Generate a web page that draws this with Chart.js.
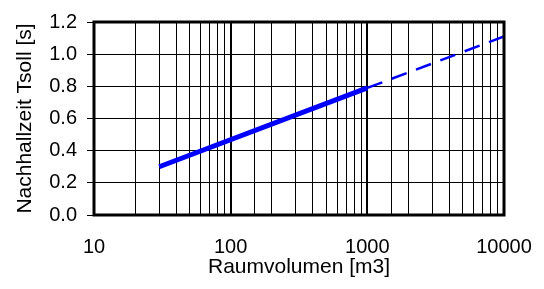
<!DOCTYPE html>
<html>
<head>
<meta charset="utf-8">
<script src="https://cdn.jsdelivr.net/npm/chart.js@4/dist/chart.umd.min.js"></script>
<style>
html,body{margin:0;padding:0;background:#fff;}
#wrap{width:544px;height:289px;position:relative;}
</style>
</head>
<body>
<div id="wrap"><canvas id="c" width="544" height="289"></canvas></div>
<script>
// Data
const solidVolumes = [30, 1000];
const solidTimes = [0.30, 0.79];
const dashedVolumes = [1000, 10000];
const dashedTimes = [0.79, 1.11];
const xTickLabels = [10, 100, 1000, 10000];
const yTickValues = [0, 0.2, 0.4, 0.6, 0.8, 1.0, 1.2];
const xTitle = 'Raumvolumen [m3]';
const yTitle = 'Nachhallzeit Tsoll [s]';

const toPts = (xs, ys) => xs.map((x, i) => ({x: x, y: ys[i]}));
const FONT = '"Liberation Sans", Arial, sans-serif';
const isDecade = v => Math.abs(Math.log10(v) - Math.round(Math.log10(v))) < 1e-9;

const frame = {
  id: 'frame',
  afterDatasetsDraw(chart) {
    const a = chart.chartArea, ctx = chart.ctx;
    ctx.save();
    ctx.strokeStyle = '#000';
    ctx.lineWidth = 3;
    ctx.strokeRect(a.left, a.top, a.right - a.left, a.bottom - a.top);
    ctx.restore();
  }
};

new Chart(document.getElementById('c'), {
  type: 'line',
  data: {
    datasets: [
      {data: toPts(solidVolumes, solidTimes), borderColor: '#0000ff', borderWidth: 5, pointRadius: 0, fill: false, borderCapStyle: 'butt'},
      {data: toPts(dashedVolumes, dashedTimes), borderColor: '#0000ff', borderWidth: 2.5, borderDash: [16, 10], pointRadius: 0, fill: false}
    ]
  },
  options: {
    responsive: false,
    animation: false,
    devicePixelRatio: 1,
    layout: {padding: {top: 16, right: 40, left: 0, bottom: 0}},
    plugins: {legend: {display: false}, tooltip: {enabled: false}},
    scales: {
      x: {
        type: 'logarithmic',
        min: 10, max: 10000,
        afterFit(s) { s.height = 74; s.paddingRight = 0; s.paddingLeft = 0; },
        border: {display: false},
        grid: {
          color: '#000',
          lineWidth: ctx => (ctx.tick && isDecade(ctx.tick.value)) ? 2 : 1,
          drawTicks: false
        },
        ticks: {
          autoSkip: false, maxRotation: 0,
          padding: 20, color: '#000',
          font: {family: FONT, size: 20},
          callback: v => xTickLabels.some(t => Math.abs(t - v) < 1e-6) ? String(v) : ''
        },
        title: {display: true, text: xTitle, color: '#000', font: {family: FONT, size: 21}, padding: {top: 0, bottom: 9}}
      },
      y: {
        type: 'linear',
        min: 0, max: 1.2,
        afterFit(s) { s.width = 94; },
        afterBuildTicks(s) { s.ticks = yTickValues.map(v => ({value: v})); },
        border: {display: false},
        grid: {color: '#000', lineWidth: 1, tickLength: 7},
        ticks: {
          padding: 10, color: '#000',
          font: {family: FONT, size: 20},
          callback: v => Number(v).toFixed(1)
        },
        title: {display: true, text: yTitle, color: '#000', font: {family: FONT, size: 21}, padding: {top: 13, bottom: 0}}
      }
    }
  },
  plugins: [frame]
});
</script>
</body>
</html>
